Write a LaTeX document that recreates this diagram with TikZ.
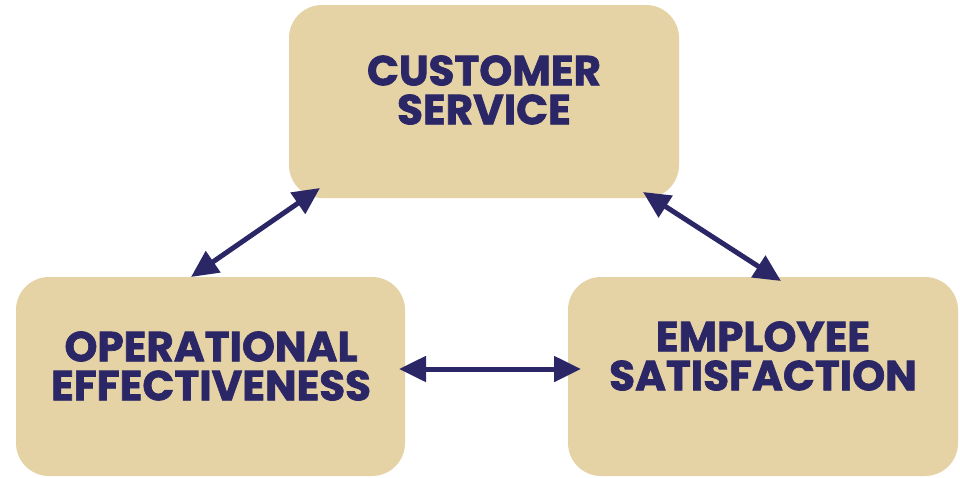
\documentclass[tikz,border=0pt]{standalone}
\usepackage{fontspec}
\setmainfont{Poppins}
\newfontfamily\heavy{Poppins}[BoldFeatures={FakeBold=1.6}]
\usetikzlibrary{arrows.meta}
\definecolor{boxfill}{HTML}{E5D2A5}
\definecolor{navy}{HTML}{2B2766}
\tikzset{
  box/.style={fill=boxfill, rounded corners=33pt},
  lbl/.style={font=\heavy\bfseries\fontsize{42}{39}\selectfont, text=navy, align=center},
  link/.style={draw=navy, line width=5pt, {Triangle[length=27pt,width=25pt]}-{Triangle[length=27pt,width=25pt]}}
}
\begin{document}
\begin{tikzpicture}[x=1pt,y=-1pt]
\useasboundingbox (0,0) rectangle (960,477);
\fill[box] (289,5) rectangle (679,198);
\fill[box] (16,277) rectangle (405,476);
\fill[box] (568,277) rectangle (958,476);
\node[lbl] (cs) at (484,90) {CUSTOMER\\SERVICE};
\node[lbl] (oe) at (211,366) {OPERATIONAL\\EFFECTIVENESS};
\node[lbl] (es) at (763,356) {EMPLOYEE\\SATISFACTION};
\coordinate (a1) at (320,188);
\coordinate (b1) at (191,277);
\coordinate (a2) at (643,192);
\coordinate (b2) at (781,281);
\coordinate (a3) at (399,369);
\coordinate (b3) at (581,369);
\draw[link] (a1) -- (b1);
\draw[link] (a2) -- (b2);
\draw[link] (a3) -- (b3);
\end{tikzpicture}
\end{document}
